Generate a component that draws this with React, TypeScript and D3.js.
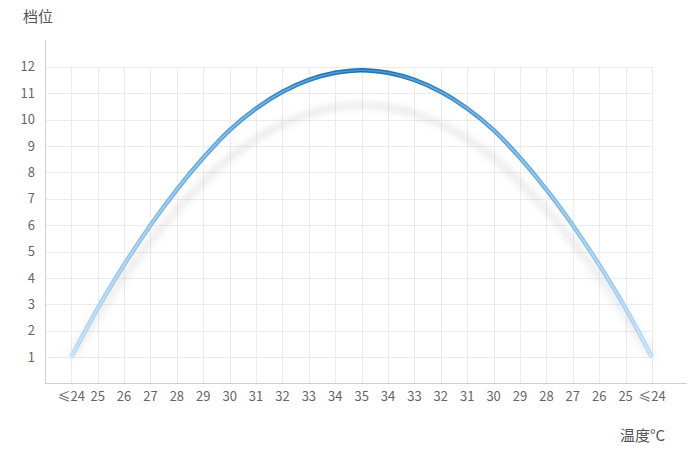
import { useEffect, useRef } from "react";
import * as d3 from "d3";

// categories along the x axis (temperature rises to 35 then falls back)
const tempLabels = [
    "≤24", "25", "26", "27", "28", "29", "30", "31", "32", "33", "34", "35",
    "34", "33", "32", "31", "30", "29", "28", "27", "26", "25", "≤24",
];

// gear level for each temperature
const gearValues = [
    1, 2.85, 4.5, 6.0, 7.35, 8.55, 9.6, 10.42, 11.05, 11.5, 11.77, 11.87,
    11.77, 11.5, 11.05, 10.42, 9.6, 8.55, 7.35, 6.0, 4.5, 2.85, 1,
];

const yTicks = [1, 2, 3, 4, 5, 6, 7, 8, 9, 10, 11, 12];

export default function App() {
    const svgRef = useRef<SVGSVGElement | null>(null);

    useEffect(() => {
        const width = 700;
        const height = 453;
        const axisLeft = 45;
        const axisRight = 687;
        const axisBottom = 383.7;
        const axisTop = 40.3;
        const font = "'Noto Sans CJK SC', 'Noto Sans', sans-serif";

        const svg = d3.select(svgRef.current)
            .attr("width", width)
            .attr("height", height)
            .attr("viewBox", [0, 0, width, height].join(" "));
        svg.selectAll("*").remove();

        const idx = d3.range(tempLabels.length);

        const x = d3.scalePoint<number>()
            .domain(idx)
            .range([71.3, 652]);

        const y = d3.scaleLinear()
            .domain([0, 13])
            .range([axisBottom, axisTop]);

        const gridRight = x(idx[idx.length - 1]) as number;

        // grid
        const grid = svg.append("g").attr("stroke", "#ebebeb").attr("stroke-width", 1);
        grid.selectAll("line.h")
            .data(yTicks)
            .join("line")
            .attr("class", "h")
            .attr("x1", axisLeft)
            .attr("x2", gridRight)
            .attr("y1", d => Math.round(y(d)) + 0.5)
            .attr("y2", d => Math.round(y(d)) + 0.5);
        grid.selectAll("line.v")
            .data(idx)
            .join("line")
            .attr("class", "v")
            .attr("x1", d => Math.round(x(d) as number) + 0.5)
            .attr("x2", d => Math.round(x(d) as number) + 0.5)
            .attr("y1", axisBottom)
            .attr("y2", y(12));

        // axes lines
        svg.append("line")
            .attr("x1", axisLeft + 0.5).attr("x2", axisLeft + 0.5)
            .attr("y1", axisTop).attr("y2", axisBottom)
            .attr("stroke", "#cfcfcf");
        svg.append("line")
            .attr("x1", axisLeft).attr("x2", axisRight)
            .attr("y1", Math.round(axisBottom) - 0.5).attr("y2", Math.round(axisBottom) - 0.5)
            .attr("stroke", "#cfcfcf");

        // y tick labels
        svg.append("g")
            .selectAll("text")
            .data(yTicks)
            .join("text")
            .attr("x", 35)
            .attr("y", d => y(d))
            .attr("dy", "0.35em")
            .attr("text-anchor", "end")
            .attr("font-family", font)
            .attr("font-size", 13)
            .attr("fill", "#666")
            .text(d => d);

        // x tick labels
        svg.append("g")
            .selectAll("text")
            .data(idx)
            .join("text")
            .attr("x", d => x(d) as number)
            .attr("y", 396)
            .attr("dy", "0.35em")
            .attr("text-anchor", "middle")
            .attr("font-family", font)
            .attr("font-size", 13)
            .attr("fill", "#666")
            .text(d => tempLabels[d]);

        // axis names
        svg.append("text")
            .attr("x", 23).attr("y", 17).attr("dy", "0.35em")
            .attr("font-family", font).attr("font-size", 15).attr("fill", "#555")
            .text("档位");
        svg.append("text")
            .attr("x", 665).attr("y", 436).attr("dy", "0.35em")
            .attr("text-anchor", "end")
            .attr("font-family", font).attr("font-size", 15).attr("fill", "#555")
            .text("温度°C");

        const defs = svg.append("defs");
        const grad = defs.append("linearGradient")
            .attr("id", "lineGrad")
            .attr("gradientUnits", "userSpaceOnUse")
            .attr("x1", x(0) as number).attr("x2", gridRight)
            .attr("y1", 0).attr("y2", 0);
        [[0, "#b9dcf6"], [0.25, "#5aa3da"], [0.4, "#2a7dbc"], [0.5, "#1f6dab"],
         [0.6, "#2a7dbc"], [0.75, "#5aa3da"], [1, "#b9dcf6"]]
            .forEach(([o, c]) => grad.append("stop").attr("offset", o as number).attr("stop-color", c as string));

        const grad2 = defs.append("linearGradient")
            .attr("id", "lineGradHi")
            .attr("gradientUnits", "userSpaceOnUse")
            .attr("x1", x(0) as number).attr("x2", gridRight)
            .attr("y1", 0).attr("y2", 0);
        [[0, "#cfe7fa"], [0.3, "#7fbbe6"], [0.5, "#3f93d0"], [0.7, "#7fbbe6"], [1, "#cfe7fa"]]
            .forEach(([o, c]) => grad2.append("stop").attr("offset", o as number).attr("stop-color", c as string));

        defs.append("filter")
            .attr("id", "blur")
            .attr("x", "-10%").attr("y", "-20%").attr("width", "120%").attr("height", "140%")
            .append("feGaussianBlur")
            .attr("stdDeviation", 4);

        const line = d3.line<number>()
            .x(d => x(d) as number)
            .y(d => y(gearValues[d]))
            .curve(d3.curveCatmullRom);

        // soft grey shadow under the curve
        const base = y(1);
        svg.append("path")
            .attr("d", line(idx))
            .attr("fill", "none")
            .attr("stroke", "#9a9aa2")
            .attr("stroke-opacity", 0.32)
            .attr("stroke-width", 5)
            .attr("filter", "url(#blur)")
            .attr("transform", `translate(0,${base * (1 - 0.878)}) scale(1,0.878)`);

        svg.append("path")
            .attr("d", line(idx))
            .attr("fill", "none")
            .attr("stroke", "url(#lineGrad)")
            .attr("stroke-width", 4.5);

        svg.append("path")
            .attr("d", line(idx))
            .attr("fill", "none")
            .attr("stroke", "url(#lineGradHi)")
            .attr("stroke-width", 1.5);
    }, []);

    return (
        <svg ref={svgRef} style={{ position: "absolute", left: 0, top: 0, background: "#fff" }} />
    );
}
